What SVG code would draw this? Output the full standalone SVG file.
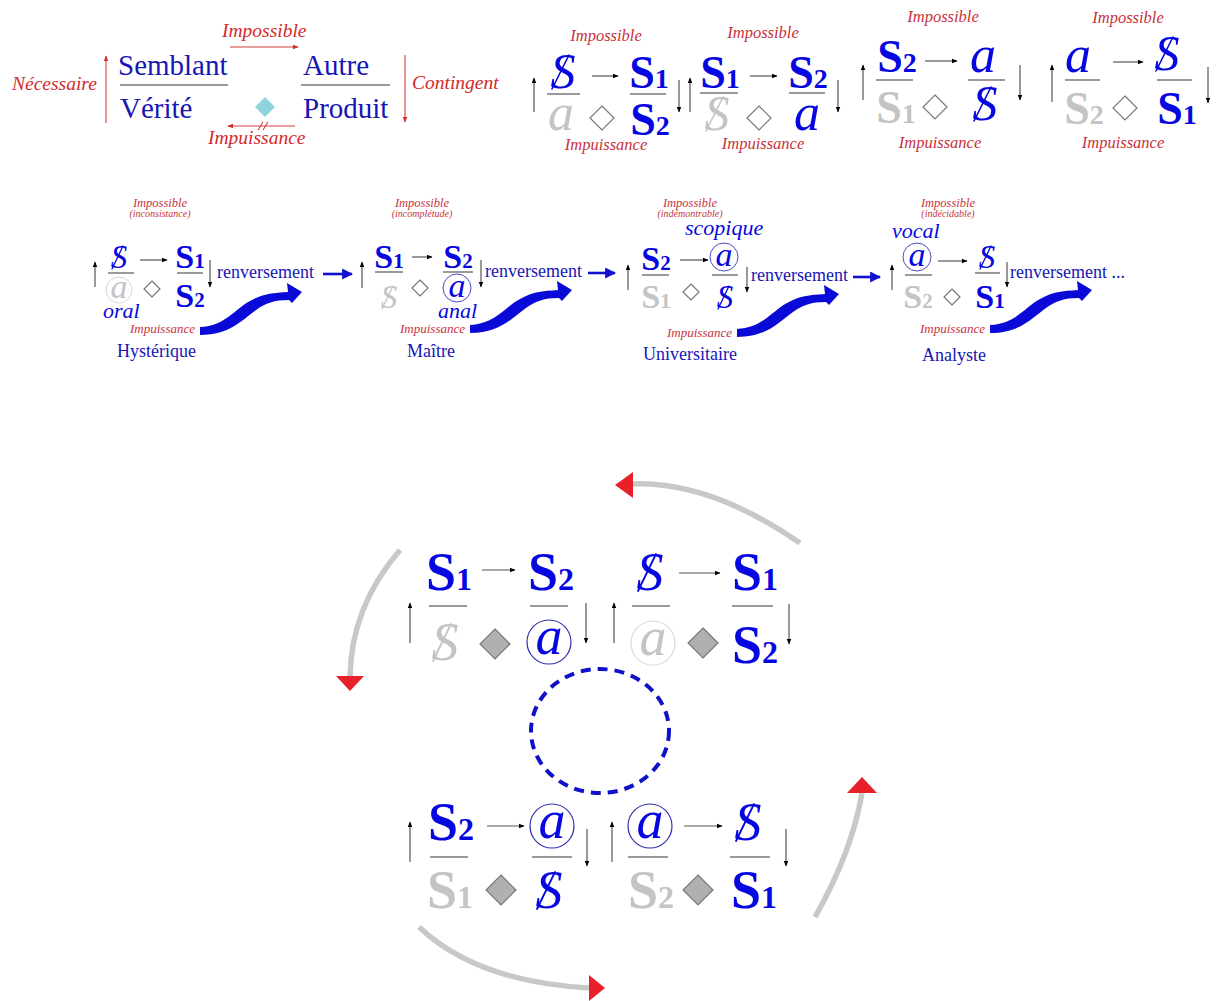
<svg xmlns="http://www.w3.org/2000/svg" xmlns:xlink="http://www.w3.org/1999/xlink" width="1216" height="1001" viewBox="0 0 1216 1001">
<style>
text{font-family:"Liberation Serif","Times New Roman",serif}
.red{fill:#c8323c;font-style:italic}
.redb{fill:#d42a2a;font-style:italic;font-size:19.5px}
.word{fill:#1616b4}
.bl{fill:#0606e0}
.gr{fill:#c4c4c4}
.S{font-weight:bold}
.it{font-style:italic}
.bar{stroke:#9a9a9a;stroke-width:2}
.sl{stroke-linecap:round}
.ar{stroke:#555;stroke-width:1.2;fill:none;marker-end:url(#ah)}
.dia{fill:#fff;stroke:#777;stroke-width:1.2}
.diag{fill:#b0b0b0;stroke:#777;stroke-width:1.2}
.arc{fill:none;stroke:#c8c8c8;stroke-width:5.5}
.rhd{fill:#e8202a}
.barrow{stroke:#1010d0;stroke-width:2.6;fill:none;marker-end:url(#bh)}
.rl{stroke:#d04040;stroke-width:1.1;fill:none}
</style>
<defs>
<marker id="ah" viewBox="0 0 10 10" refX="9" refY="5" markerUnits="userSpaceOnUse" markerWidth="6" markerHeight="6" orient="auto"><path d="M0,1 L10,5 L0,9 z" fill="#000"/></marker>
<marker id="rh" viewBox="0 0 10 10" refX="9" refY="5" markerUnits="userSpaceOnUse" markerWidth="6" markerHeight="6" orient="auto"><path d="M0,1 L10,5 L0,9 z" fill="#d42a2a"/></marker>
<marker id="bh" viewBox="0 0 10 10" refX="9" refY="5" markerUnits="userSpaceOnUse" markerWidth="11" markerHeight="11" orient="auto"><path d="M0,0 L10,5 L0,10 z" fill="#1010d0"/></marker>
<path id="swoosh" d="M0,-4 C25,-5 35,-22 50,-30 C62,-37 72,-38 88,-39 L87,-48 L102,-39 L92,-28 L89,-31 C74,-31 66,-28 56,-21 C42,-11 30,4 0,4 Z" fill="#0a0ad8"/>
</defs>

<g id="structure">
<text class="redb" x="12" y="90">Nécessaire</text>
<line class="rl" x1="106" y1="123" x2="106" y2="56" marker-end="url(#rh)"/>
<text class="word" x="118" y="75" font-size="29">Semblant</text>
<line class="bar" x1="120" y1="85" x2="228" y2="85"/>
<text class="word" x="120" y="118" font-size="29">Vérité</text>
<text class="redb" x="222" y="37">Impossible</text>
<line class="rl" x1="230" y1="47" x2="298" y2="47" marker-end="url(#rh)"/>
<text class="word" x="303" y="75" font-size="29">Autre</text>
<line class="bar" x1="301" y1="85" x2="390" y2="85"/>
<text class="word" x="303" y="118" font-size="29">Produit</text>
<path d="M265,97 L275,107 L265,117 L255,107 Z" fill="#8fd3dd"/>
<line class="rl" x1="295" y1="126" x2="228" y2="126" marker-end="url(#rh)"/>
<line class="rl" x1="258" y1="130" x2="263" y2="122"/>
<line class="rl" x1="263" y1="130" x2="268" y2="122"/>
<text class="redb" x="208" y="144">Impuissance</text>
<line class="rl" x1="405" y1="55" x2="405" y2="122" marker-end="url(#rh)"/>
<text class="redb" x="412" y="89">Contingent</text>
</g>

<g id="m1-hysterique" text-anchor="middle">
<text class="red" x="606" y="41" font-size="16.5">Impossible</text>
<line class="ar" x1="534" y1="112" x2="534" y2="78"/>
<text class="bl it" x="563" y="88" font-size="50">S</text>
<line class="sl" x1="552" y1="89" x2="569" y2="55" stroke="#0606e0" stroke-width="1.6"/>
<line class="bar" x1="547" y1="94" x2="580" y2="94"/>
<text class="gr it" x="561" y="130" font-size="52">a</text>
<line class="ar" x1="592" y1="76" x2="618" y2="76"/>
<path class="dia" d="M602,106 L614,118 L602,130 L590,118 Z"/>
<text class="bl S" x="649" y="88" font-size="46">S<tspan font-size="28">1</tspan></text>
<line class="bar" x1="630" y1="94" x2="666" y2="94"/>
<text class="bl S" x="650" y="135" font-size="46">S<tspan font-size="28">2</tspan></text>
<line class="ar" x1="679" y1="80" x2="679" y2="112"/>
<text class="red" x="606" y="150" font-size="16.5">Impuissance</text>
</g>

<g id="m1-maitre" text-anchor="middle">
<text class="red" x="763" y="38" font-size="16.5">Impossible</text>
<line class="ar" x1="690" y1="112" x2="690" y2="78"/>
<text class="bl S" x="720" y="88" font-size="46">S<tspan font-size="28">1</tspan></text>
<line class="bar" x1="700" y1="93" x2="738" y2="93"/>
<text class="gr it" x="717" y="130" font-size="50">S</text>
<line class="sl" x1="706" y1="131" x2="723" y2="97" stroke="#c4c4c4" stroke-width="1.6"/>
<line class="ar" x1="750" y1="76" x2="777" y2="76"/>
<path class="dia" d="M759,106 L771,118 L759,130 L747,118 Z"/>
<text class="bl S" x="808" y="88" font-size="46">S<tspan font-size="28">2</tspan></text>
<line class="bar" x1="789" y1="93" x2="825" y2="93"/>
<text class="bl it" x="807" y="130" font-size="52">a</text>
<line class="ar" x1="838" y1="80" x2="838" y2="112"/>
<text class="red" x="763" y="149" font-size="16.5">Impuissance</text>
</g>

<g id="m1-universitaire" text-anchor="middle">
<text class="red" x="943" y="22" font-size="16.5">Impossible</text>
<line class="ar" x1="863" y1="100" x2="863" y2="65"/>
<text class="bl S" x="897" y="72" font-size="46">S<tspan font-size="28">2</tspan></text>
<line class="bar" x1="876" y1="80" x2="913" y2="80"/>
<text class="gr S" x="896" y="123" font-size="46">S<tspan font-size="28">1</tspan></text>
<line class="ar" x1="925" y1="61" x2="957" y2="61"/>
<path class="dia" d="M935,95 L947,107 L935,119 L923,107 Z"/>
<text class="bl it" x="983" y="72" font-size="52">a</text>
<line class="bar" x1="968" y1="80" x2="1005" y2="80"/>
<text class="bl it" x="985" y="120" font-size="50">S</text>
<line class="sl" x1="974" y1="121" x2="991" y2="87" stroke="#0606e0" stroke-width="1.6"/>
<line class="ar" x1="1020" y1="65" x2="1020" y2="100"/>
<text class="red" x="940" y="148" font-size="16.5">Impuissance</text>
</g>

<g id="m1-analyste" text-anchor="middle">
<text class="red" x="1128" y="23" font-size="16.5">Impossible</text>
<line class="ar" x1="1052" y1="102" x2="1052" y2="65"/>
<text class="bl it" x="1078" y="72" font-size="52">a</text>
<line class="bar" x1="1065" y1="80" x2="1100" y2="80"/>
<text class="gr S" x="1084" y="124" font-size="46">S<tspan font-size="28">2</tspan></text>
<line class="ar" x1="1113" y1="62" x2="1143" y2="62"/>
<path class="dia" d="M1125,96 L1137,108 L1125,120 L1113,108 Z"/>
<text class="bl it" x="1167" y="70" font-size="50">S</text>
<line class="sl" x1="1156" y1="71" x2="1173" y2="37" stroke="#0606e0" stroke-width="1.6"/>
<line class="bar" x1="1157" y1="80" x2="1192" y2="80"/>
<text class="bl S" x="1177" y="124" font-size="46">S<tspan font-size="28">1</tspan></text>
<line class="ar" x1="1208" y1="67" x2="1208" y2="103"/>
<text class="red" x="1123" y="148" font-size="16.5">Impuissance</text>
</g>

<g id="m2-hysterique">
<text class="red" x="160" y="207" font-size="12.5" text-anchor="middle">Impossible</text>
<text class="red" x="160" y="217" font-size="10" text-anchor="middle">(inconsistance)</text>
<line class="ar" x1="95" y1="287" x2="95" y2="262"/>
<text class="bl it" x="119" y="268" font-size="33" text-anchor="middle">S</text>
<line class="sl" x1="112" y1="269" x2="123" y2="246" stroke="#0606e0" stroke-width="1.3"/>
<line class="bar" x1="108" y1="273" x2="134" y2="273"/>
<circle cx="119" cy="290" r="13" fill="none" stroke="#d8d8d8" stroke-width="1"/>
<text class="gr it" x="119" y="298" font-size="34" text-anchor="middle">a</text>
<line class="ar" x1="140" y1="260" x2="167" y2="260"/>
<path class="dia" d="M152,281 L160,289 L152,297 L144,289 Z"/>
<text class="bl S" x="190" y="268" font-size="34" text-anchor="middle">S<tspan font-size="21">1</tspan></text>
<line class="bar" x1="177" y1="273" x2="203" y2="273"/>
<text class="bl S" x="190" y="307" font-size="34" text-anchor="middle">S<tspan font-size="21">2</tspan></text>
<line class="ar" x1="210" y1="260" x2="210" y2="287"/>
<text class="bl it" x="103" y="318" font-size="22">oral</text>
<text class="red" x="130" y="333" font-size="13">Impuissance</text>
<text class="word" x="117" y="357" font-size="18">Hystérique</text>
</g>

<g id="m2-maitre">
<text class="red" x="422" y="207" font-size="12.5" text-anchor="middle">Impossible</text>
<text class="red" x="422" y="217" font-size="10" text-anchor="middle">(incomplétude)</text>
<line class="ar" x1="362" y1="288" x2="362" y2="262"/>
<text class="bl S" x="389" y="268" font-size="34" text-anchor="middle">S<tspan font-size="21">1</tspan></text>
<line class="bar" x1="375" y1="272" x2="403" y2="272"/>
<text class="gr it" x="389" y="308" font-size="33" text-anchor="middle">S</text>
<line class="sl" x1="382" y1="309" x2="393" y2="286" stroke="#c4c4c4" stroke-width="1.3"/>
<line class="ar" x1="412" y1="257" x2="432" y2="257"/>
<path class="dia" d="M420,280 L428,288 L420,296 L412,288 Z"/>
<text class="bl S" x="458" y="268" font-size="34" text-anchor="middle">S<tspan font-size="21">2</tspan></text>
<line class="bar" x1="443" y1="272" x2="473" y2="272"/>
<circle cx="457" cy="288" r="14" fill="none" stroke="#4a4ac0" stroke-width="1"/>
<text class="bl it" x="457" y="297" font-size="34" text-anchor="middle">a</text>
<line class="ar" x1="481" y1="260" x2="481" y2="287"/>
<text class="bl it" x="438" y="318" font-size="22">anal</text>
<text class="red" x="400" y="333" font-size="13">Impuissance</text>
<text class="word" x="407" y="357" font-size="18">Maître</text>
</g>

<g id="m2-universitaire">
<text class="red" x="690" y="207" font-size="12.5" text-anchor="middle">Impossible</text>
<text class="red" x="690" y="217" font-size="10" text-anchor="middle">(indémontrable)</text>
<text class="bl it" x="685" y="235" font-size="22">scopique</text>
<line class="ar" x1="628" y1="290" x2="628" y2="265"/>
<text class="bl S" x="656" y="270" font-size="34" text-anchor="middle">S<tspan font-size="21">2</tspan></text>
<line class="bar" x1="642" y1="275" x2="669" y2="275"/>
<text class="gr S" x="656" y="308" font-size="34" text-anchor="middle">S<tspan font-size="21">1</tspan></text>
<line class="ar" x1="680" y1="260" x2="708" y2="260"/>
<path class="dia" d="M691,284 L699,292 L691,300 L683,292 Z"/>
<circle cx="724" cy="257" r="14" fill="none" stroke="#4a4ac0" stroke-width="1"/>
<text class="bl it" x="724" y="266" font-size="34" text-anchor="middle">a</text>
<line class="bar" x1="712" y1="275" x2="738" y2="275"/>
<text class="bl it" x="725" y="308" font-size="33" text-anchor="middle">S</text>
<line class="sl" x1="718" y1="309" x2="729" y2="286" stroke="#0606e0" stroke-width="1.3"/>
<line class="ar" x1="747" y1="267" x2="747" y2="292"/>
<text class="red" x="667" y="337" font-size="13">Impuissance</text>
<text class="word" x="643" y="360" font-size="18">Universitaire</text>
</g>

<g id="m2-analyste">
<text class="red" x="948" y="207" font-size="12.5" text-anchor="middle">Impossible</text>
<text class="red" x="948" y="217" font-size="10" text-anchor="middle">(indécidable)</text>
<text class="bl it" x="892" y="238" font-size="22">vocal</text>
<line class="ar" x1="892" y1="290" x2="892" y2="265"/>
<circle cx="917" cy="257" r="14" fill="none" stroke="#4a4ac0" stroke-width="1"/>
<text class="bl it" x="917" y="266" font-size="34" text-anchor="middle">a</text>
<line class="bar" x1="905" y1="275" x2="932" y2="275"/>
<text class="gr S" x="918" y="308" font-size="34" text-anchor="middle">S<tspan font-size="21">2</tspan></text>
<line class="ar" x1="938" y1="261" x2="967" y2="261"/>
<path class="dia" d="M952,289 L960,297 L952,305 L944,297 Z"/>
<text class="bl it" x="987" y="268" font-size="33" text-anchor="middle">S</text>
<line class="sl" x1="980" y1="269" x2="991" y2="246" stroke="#0606e0" stroke-width="1.3"/>
<line class="bar" x1="975" y1="273" x2="1000" y2="273"/>
<text class="bl S" x="990" y="308" font-size="34" text-anchor="middle">S<tspan font-size="21">1</tspan></text>
<line class="ar" x1="1007" y1="262" x2="1007" y2="287"/>
<text class="red" x="920" y="333" font-size="13">Impuissance</text>
<text class="word" x="922" y="361" font-size="18">Analyste</text>
</g>

<g id="m3-maitre" text-anchor="middle">
<line class="ar" x1="410" y1="643" x2="410" y2="603"/>
<text class="bl S" x="449" y="590" font-size="54">S<tspan font-size="32">1</tspan></text>
<line class="bar" x1="429" y1="606" x2="467" y2="606"/>
<text class="gr it" x="445" y="660" font-size="54">S</text>
<line class="sl" x1="433" y1="661" x2="451" y2="624" stroke="#c4c4c4" stroke-width="1.8"/>
<line class="ar" x1="482" y1="570" x2="515" y2="570"/>
<path class="diag" d="M495,629 L510,644 L495,659 L480,644 Z"/>
<text class="bl S" x="551" y="590" font-size="54">S<tspan font-size="32">2</tspan></text>
<line class="bar" x1="530" y1="606" x2="568" y2="606"/>
<circle cx="549" cy="642" r="22" fill="none" stroke="#3030b0" stroke-width="1.2"/>
<text class="bl it" x="549" y="654" font-size="54">a</text>
<line class="ar" x1="586" y1="603" x2="586" y2="643"/>
</g>

<g id="m3-hysterique" text-anchor="middle">
<line class="ar" x1="614" y1="643" x2="614" y2="603"/>
<text class="bl it" x="650" y="590" font-size="54">S</text>
<line class="sl" x1="638" y1="591" x2="656" y2="554" stroke="#0606e0" stroke-width="1.8"/>
<line class="bar" x1="632" y1="606" x2="670" y2="606"/>
<circle cx="653" cy="643" r="22" fill="none" stroke="#dcdcdc" stroke-width="1.2"/>
<text class="gr it" x="653" y="655" font-size="54">a</text>
<line class="ar" x1="679" y1="573" x2="720" y2="573"/>
<path class="diag" d="M703,628 L718,643 L703,658 L688,643 Z"/>
<text class="bl S" x="755" y="590" font-size="54">S<tspan font-size="32">1</tspan></text>
<line class="bar" x1="732" y1="606" x2="773" y2="606"/>
<text class="bl S" x="755" y="663" font-size="54">S<tspan font-size="32">2</tspan></text>
<line class="ar" x1="789" y1="604" x2="789" y2="644"/>
</g>

<g id="m3-universitaire" text-anchor="middle">
<line class="ar" x1="410" y1="862" x2="410" y2="822"/>
<text class="bl S" x="451" y="840" font-size="54">S<tspan font-size="32">2</tspan></text>
<line class="bar" x1="430" y1="857" x2="468" y2="857"/>
<text class="gr S" x="450" y="908" font-size="54">S<tspan font-size="32">1</tspan></text>
<line class="ar" x1="487" y1="826" x2="524" y2="826"/>
<path class="diag" d="M501,875 L516,890 L501,905 L486,890 Z"/>
<circle cx="552" cy="826" r="22" fill="none" stroke="#3030b0" stroke-width="1.2"/>
<text class="bl it" x="552" y="838" font-size="54">a</text>
<line class="bar" x1="532" y1="857" x2="572" y2="857"/>
<text class="bl it" x="549" y="908" font-size="54">S</text>
<line class="sl" x1="537" y1="909" x2="555" y2="872" stroke="#0606e0" stroke-width="1.8"/>
<line class="ar" x1="587" y1="829" x2="587" y2="866"/>
</g>

<g id="m3-analyste" text-anchor="middle">
<line class="ar" x1="612" y1="862" x2="612" y2="822"/>
<circle cx="650" cy="826" r="22" fill="none" stroke="#3030b0" stroke-width="1.2"/>
<text class="bl it" x="650" y="838" font-size="54">a</text>
<line class="bar" x1="628" y1="857" x2="668" y2="857"/>
<text class="gr S" x="651" y="908" font-size="54">S<tspan font-size="32">2</tspan></text>
<line class="ar" x1="684" y1="826" x2="722" y2="826"/>
<path class="diag" d="M698,875 L713,890 L698,905 L683,890 Z"/>
<text class="bl it" x="748" y="840" font-size="54">S</text>
<line class="sl" x1="736" y1="841" x2="754" y2="804" stroke="#0606e0" stroke-width="1.8"/>
<line class="bar" x1="730" y1="857" x2="770" y2="857"/>
<text class="bl S" x="754" y="908" font-size="54">S<tspan font-size="32">1</tspan></text>
<line class="ar" x1="786" y1="829" x2="786" y2="866"/>
</g>

<g id="center">
<ellipse cx="600" cy="731" rx="69" ry="62" fill="none" stroke="#1010c8" stroke-width="4" stroke-dasharray="10 7"/>
</g>

<g id="connectors">
<text class="word" x="217" y="278" font-size="18">renversement</text>
<line class="barrow" x1="323" y1="274" x2="352" y2="274"/>
<use xlink:href="#swoosh" x="200" y="331"/>
<text class="word" x="485" y="277" font-size="18">renversement</text>
<line class="barrow" x1="588" y1="273" x2="615" y2="273"/>
<use xlink:href="#swoosh" x="470" y="329"/>
<text class="word" x="751" y="281" font-size="18">renversement</text>
<line class="barrow" x1="853" y1="277" x2="880" y2="277"/>
<use xlink:href="#swoosh" x="737" y="333"/>
<text class="word" x="1010" y="278" font-size="18">renversement ...</text>
<use xlink:href="#swoosh" x="990" y="329"/>

<path class="arc" d="M800,543 Q710,481 632,484"/>
<path class="rhd" d="M615,485 L633,472 L633,498 Z"/>
<path class="arc" d="M400,550 Q351,607 350,677"/>
<path class="rhd" d="M350,691 L336,676 L364,676 Z"/>
<path class="arc" d="M419,927 Q477,982 590,988"/>
<path class="rhd" d="M605,988 L589,975 L589,1001 Z"/>
<path class="arc" d="M815,917 Q852,852 862,793"/>
<path class="rhd" d="M862,777 L847,793 L877,793 Z"/>
</g>
</svg>
